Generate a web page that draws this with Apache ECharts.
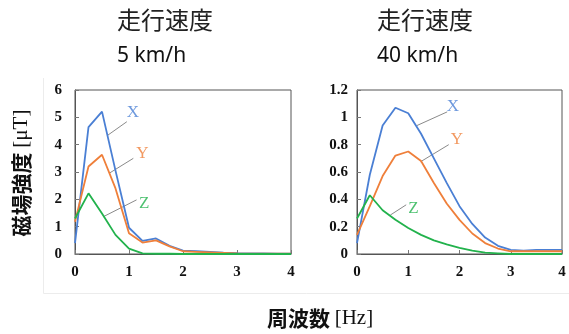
<!DOCTYPE html>
<html><head><meta charset="utf-8">
<script src="https://cdn.jsdelivr.net/npm/echarts@6/dist/echarts.min.js"></script>
<style>html,body{margin:0;padding:0;background:#fff}#c{width:569px;height:334px}</style>
</head><body><div id="c"></div>
<script>
// ---- data ----
const freq = [0,0.25,0.5,0.75,1,1.25,1.5,1.75,2,2.25,2.5,2.75,3,3.25,3.5,3.75,4];
const slowX = [0.4,4.64,5.21,3.05,0.96,0.48,0.57,0.3,0.12,0.1,0.08,0.05,0.03,0.02,0.02,0.01,0.01];
const slowY = [1.18,3.2,3.63,2.4,0.76,0.42,0.5,0.28,0.1,0.08,0.06,0.04,0.02,0.01,0.01,0.01,0.01];
const slowZ = [1.3,2.22,1.48,0.7,0.2,0.02,0.01,0.01,0,0,0,0,0,0,0,0,0];
const fastX = [0.08,0.58,0.94,1.07,1.03,0.88,0.70,0.52,0.35,0.22,0.12,0.06,0.03,0.025,0.03,0.03,0.03];
const fastY = [0.14,0.35,0.57,0.72,0.75,0.68,0.52,0.37,0.25,0.15,0.08,0.04,0.02,0.02,0.02,0.02,0.02];
const fastZ = [0.26,0.43,0.32,0.25,0.19,0.14,0.10,0.07,0.045,0.025,0.01,0.005,0,0,0,0,0];
const seriesNames = ['X','Y','Z'];
const titleTop = '走行速度';
const speeds = ['5 km/h','40 km/h'];
const yAxisName = ['磁場強度 ','[μT]'];
const xAxisName = ['周波数 ','[Hz]'];
// annotation label positions and leader lines (data coords)
const slowLabels = [[1.07,5.16],[1.25,3.68],[1.28,1.83]];
const slowLeaders = [[[0.61,4.35],[0.96,4.84]],[[0.63,2.95],[1.08,3.5]],[[0.52,1.36],[1.14,1.98]]];
const fastLabels = [[1.87,1.08],[1.95,0.84],[1.10,0.33]];
const fastLeaders = [[[1.17,0.94],[1.76,1.04]],[[1.24,0.675],[1.79,0.80]],[[0.65,0.285],[0.96,0.36]]];

const colors = ['#4a7fd4','#ef7f3a','#22b24c'];
const serif = '"Liberation Serif","Times New Roman",serif';
const cjk = '"Noto Sans CJK JP","Noto Sans CJK SC",sans-serif';

const chart = echarts.init(document.getElementById('c'), null, {renderer:'canvas'});

function xAxis(gi){
  return {type:'value', gridIndex:gi, min:0, max:4, interval:1,
    axisLine:{show:true,lineStyle:{color:'#555',width:1}},
    axisTick:{show:true,inside:true,length:4,lineStyle:{color:'#777'}},
    splitLine:{show:false},
    axisLabel:{fontFamily:serif,fontWeight:'bold',fontSize:15,color:'#111',margin:11}};
}
function yAxis(gi,max,interval,margin){
  return {type:'value', gridIndex:gi, min:0, max:max, interval:interval,
    axisLine:{show:true,lineStyle:{color:'#555',width:1}},
    axisTick:{show:true,inside:true,length:4,lineStyle:{color:'#777'}},
    splitLine:{show:false},
    axisLabel:{fontFamily:serif,fontWeight:'bold',fontSize:15,color:'#111',margin:margin}};
}
const series = [];
function addSet(gi, arrs, labels, leaders){
  arrs.forEach((a,i)=>{
    series.push({type:'line', xAxisIndex:gi, yAxisIndex:gi, data:freq.map((f,k)=>[f,a[k]]),
      symbol:'none', lineStyle:{color:colors[i],width:1.8}, z:3});
    series.push({type:'line', xAxisIndex:gi, yAxisIndex:gi, data:leaders[i],
      symbol:'none', lineStyle:{color:'#8a8a8a',width:1}, z:2});
    series.push({type:'scatter', xAxisIndex:gi, yAxisIndex:gi, data:[labels[i]],
      symbolSize:0, label:{show:true,position:'inside',formatter:seriesNames[i],
        fontFamily:serif,fontSize:17,color:colors[i]}, z:4});
  });
}
addSet(0,[slowX,slowY,slowZ],slowLabels,slowLeaders);
addSet(1,[fastX,fastY,fastZ],fastLabels,fastLeaders);

chart.setOption({
  animation:false,
  backgroundColor:'#fff',
  grid:[
    {left:75,top:90,width:216,height:164,show:true,borderColor:'#555',borderWidth:1,backgroundColor:'transparent'},
    {left:357,top:90,width:205,height:164,show:true,borderColor:'#555',borderWidth:1,backgroundColor:'transparent'}
  ],
  xAxis:[xAxis(0),xAxis(1)],
  yAxis:[yAxis(0,6,1,13),yAxis(1,1.2,0.2,9)],
  series:series,
  graphic:[
    {type:'line',shape:{x1:43.5,y1:78,x2:43.5,y2:293.5},style:{stroke:'#ececec',lineWidth:1},silent:true},
    {type:'line',shape:{x1:43.5,y1:293.5,x2:569,y2:293.5},style:{stroke:'#ececec',lineWidth:1},silent:true},
    {type:'text',left:117,top:8,style:{text:titleTop,font:'24px '+cjk,fill:'#222'}},
    {type:'text',left:117,top:46,style:{text:speeds[0],font:'21px "Noto Sans",sans-serif',fill:'#111'}},
    {type:'text',left:377,top:8,style:{text:titleTop,font:'24px '+cjk,fill:'#222'}},
    {type:'text',left:377,top:46,style:{text:speeds[1],font:'21px "Noto Sans",sans-serif',fill:'#111'}},
    {type:'text',x:21,y:173,rotation:Math.PI/2,
      style:{text:'{a|'+yAxisName[0]+'}{b|'+yAxisName[1]+'}',align:'center',verticalAlign:'middle',
        rich:{a:{fontFamily:cjk,fontWeight:'bold',fontSize:21,fill:'#111'},
              b:{fontFamily:serif,fontSize:21,fill:'#111'}}}},
    {type:'text',x:320,y:318,
      style:{text:'{a|'+xAxisName[0]+'}{b|'+xAxisName[1]+'}',align:'center',verticalAlign:'middle',
        rich:{a:{fontFamily:cjk,fontWeight:'bold',fontSize:21,fill:'#111'},
              b:{fontFamily:serif,fontSize:21,fill:'#111'}}}}
  ]
});
</script></body></html>
